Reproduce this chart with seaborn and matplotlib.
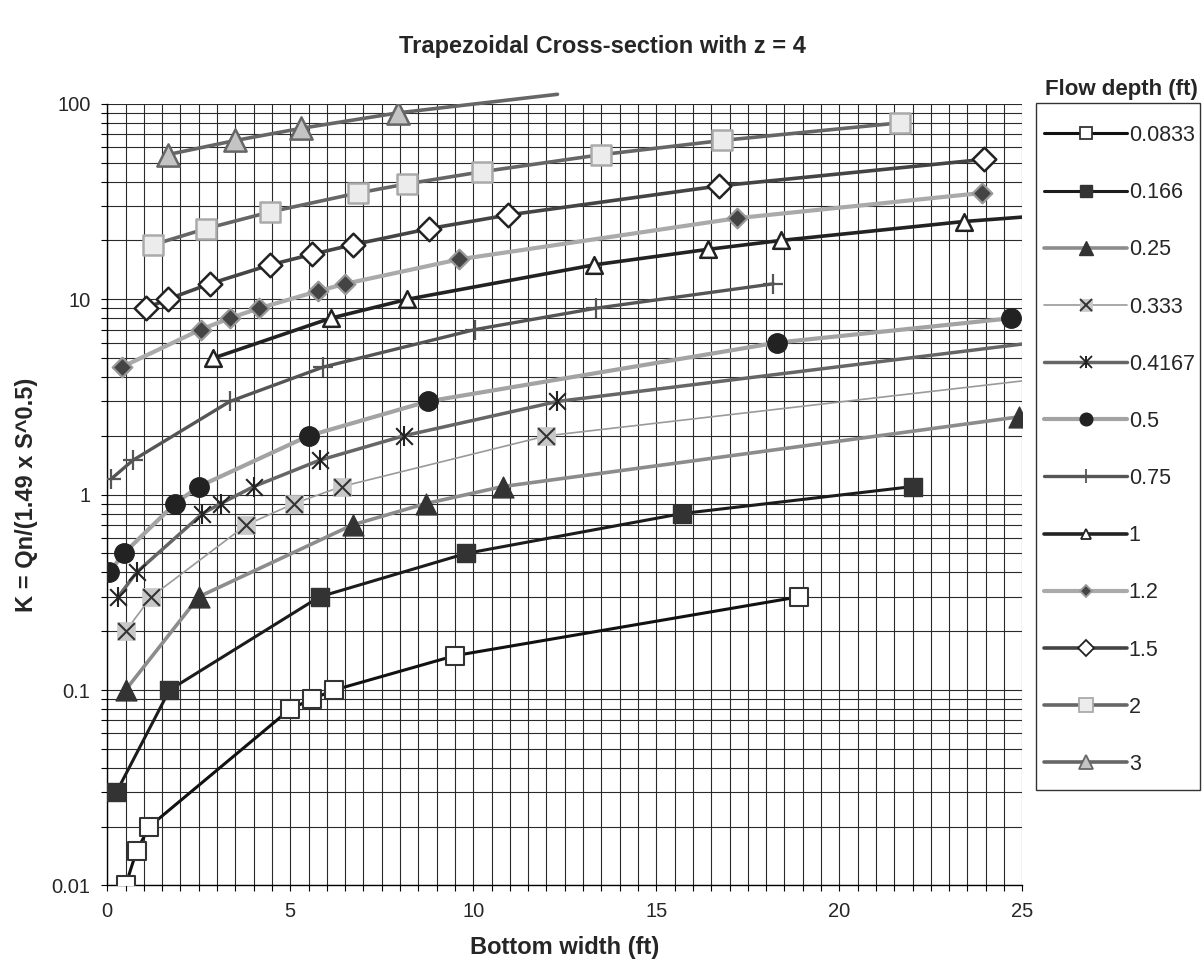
import matplotlib
matplotlib.use("Agg")
import matplotlib.pyplot as plt
from matplotlib.lines import Line2D
from matplotlib.patches import Rectangle
from matplotlib.ticker import MultipleLocator, LogLocator, FuncFormatter, NullFormatter
import seaborn as sns
import pandas as pd

# flow depths (ft) - one series each
depths = ['0.0833', '0.166', '0.25', '0.333', '0.4167', '0.5',
          '0.75', '1', '1.2', '1.5', '2', '3']

# bottom width (ft) / K values
w_0083 = [0.5, 0.8, 1.15, 5.0, 5.6, 6.2, 9.5, 18.9]
k_0083 = [0.01, 0.015, 0.02, 0.08, 0.09, 0.1, 0.15, 0.3]

w_0166 = [0.25, 1.7, 5.8, 9.8, 15.7, 22.0]
k_0166 = [0.03, 0.1, 0.3, 0.5, 0.8, 1.1]

w_025 = [0.5, 2.5, 6.7, 8.7, 10.8, 24.9]
k_025 = [0.1, 0.3, 0.7, 0.9, 1.1, 2.5]

w_0333 = [0.5, 1.2, 3.8, 5.1, 6.4, 12.0, 30.0]
k_0333 = [0.2, 0.3, 0.7, 0.9, 1.1, 2.0, 4.9]

w_04167 = [0.3, 0.8, 2.6, 3.1, 4.0, 5.8, 8.1, 12.3, 30.0]
k_04167 = [0.3, 0.4, 0.8, 0.9, 1.1, 1.5, 2.0, 3.0, 7.7]

w_05 = [0.05, 0.45, 1.85, 2.5, 5.5, 8.75, 18.3, 24.7]
k_05 = [0.4, 0.5, 0.9, 1.1, 2.0, 3.0, 6.0, 8.0]

w_075 = [0.1, 0.7, 3.35, 5.9, 10.05, 13.35, 18.2]
k_075 = [1.2, 1.5, 3.0, 4.5, 7.0, 9.0, 12.0]

w_1 = [2.9, 6.1, 8.2, 13.3, 16.4, 18.4, 23.4, 30.0]
k_1 = [5, 8, 10, 15, 18, 20, 25, 31]

w_12 = [0.4, 2.55, 3.35, 4.15, 5.75, 6.5, 9.6, 17.2, 23.9]
k_12 = [4.5, 7, 8, 9, 11, 12, 16, 26, 35]

w_15 = [1.05, 1.65, 2.8, 4.45, 5.6, 6.7, 8.8, 10.95, 16.7, 23.95]
k_15 = [9, 10, 12, 15, 17, 19, 23, 27, 38, 52]

w_2 = [1.25, 2.7, 4.45, 6.85, 8.2, 10.25, 13.5, 16.8, 21.65]
k_2 = [19, 23, 28, 35, 39, 45, 55, 65, 80]

w_3 = [1.65, 3.5, 5.3, 7.95, 12.3]
k_3 = [55, 65, 75, 90, 112]

widths = [w_0083, w_0166, w_025, w_0333, w_04167, w_05,
          w_075, w_1, w_12, w_15, w_2, w_3]
kvals = [k_0083, k_0166, k_025, k_0333, k_04167, k_05,
         k_075, k_1, k_12, k_15, k_2, k_3]

rows = []
for d, ws, ks in zip(depths, widths, kvals):
    for w, k in zip(ws, ks):
        rows.append((d, w, k))
df = pd.DataFrame(rows, columns=['depth', 'width', 'K'])

# line colour, line width, marker, size, face, edge, edge width
styles = {
    '0.0833': ('#111111', 2.2, 's', 13, 'white', '#333333', 1.5),
    '0.166':  ('#1c1c1c', 2.2, 's', 13, '#333333', '#333333', 1.0),
    '0.25':   ('#8c8c8c', 2.6, '^', 15, '#333333', '#333333', 1.0),
    '0.333':  ('#9a9a9a', 1.2, 's', 13, '#c8c8c8', '#c8c8c8', 0.5),
    '0.4167': ('#666666', 2.5, 'x', 12, '#222222', '#222222', 1.5),
    '0.5':    ('#a3a3a3', 3.0, 'o', 14, '#222222', '#222222', 1.0),
    '0.75':   ('#555555', 2.4, '+', 15, '#555555', '#555555', 1.6),
    '1':      ('#222222', 2.6, '^', 12, 'white', '#222222', 1.8),
    '1.2':    ('#aaaaaa', 3.0, 'D', 10, '#444444', '#999999', 1.6),
    '1.5':    ('#444444', 2.6, 'D', 12, 'white', '#222222', 1.8),
    '2':      ('#666666', 2.6, 's', 15, '#ececec', '#aaaaaa', 1.8),
    '3':      ('#666666', 2.6, '^', 16, '#c4c4c4', '#666666', 1.8),
}

sns.set_style('white')
plt.rcParams['font.family'] = ['Liberation Sans', 'DejaVu Sans']

fig = plt.figure(figsize=(12.04, 9.72), dpi=100)
ax = fig.add_axes([0.0891, 0.0891, 0.7600, 0.8040])

for d in depths:
    sub = df[df['depth'] == d]
    lc, lw, mk, ms, fc, ec, mew = styles[d]
    sns.lineplot(data=sub, x='width', y='K', sort=False, estimator=None,
                 color=lc, linewidth=lw, ax=ax, legend=False,
                 zorder=3, clip_on=(d != '3'))
    pts = sub[(sub['width'] <= 25) & (sub['K'] <= 100)]
    sns.scatterplot(data=pts, x='width', y='K', marker=mk, s=ms ** 2,
                    color=fc, edgecolor=ec, linewidth=mew, ax=ax,
                    legend=False, zorder=4)
    if d == '0.333':
        sns.scatterplot(data=pts, x='width', y='K', marker='x', s=12 ** 2,
                        color='#333333', linewidth=1.5, ax=ax,
                        legend=False, zorder=5)
    if d == '0.4167':
        sns.scatterplot(data=pts, x='width', y='K', marker='|', s=15 ** 2,
                        color='#222222', linewidth=1.5, ax=ax,
                        legend=False, zorder=5)

ax.set_yscale('log')
ax.set_xlim(0, 25)
ax.set_ylim(0.01, 100)

ax.xaxis.set_major_locator(MultipleLocator(5))
ax.xaxis.set_minor_locator(MultipleLocator(0.5))
ax.yaxis.set_major_locator(LogLocator(base=10))
ax.yaxis.set_minor_locator(LogLocator(base=10, subs=range(2, 10)))
ax.yaxis.set_major_formatter(FuncFormatter(lambda v, _: f'{v:g}'))
ax.yaxis.set_minor_formatter(NullFormatter())

ax.grid(which='both', color='#2a2a2a', linewidth=0.8)
ax.set_axisbelow(True)
ax.tick_params(which='both', direction='out', length=4, width=0.8,
               color='black', labelsize=14.5, left=True, bottom=True, pad=8)
for s in ['top', 'right']:
    ax.spines[s].set_visible(False)
for s in ['left', 'bottom']:
    ax.spines[s].set_color('black')
    ax.spines[s].set_linewidth(1.0)

ax.set_xlabel('Bottom width (ft)', fontsize=17, fontweight='bold')
ax.set_ylabel('K = Qn/(1.49 x S^0.5)', fontsize=17, fontweight='bold')
ax.xaxis.set_label_coords(0.5, -0.065)
ax.yaxis.set_label_coords(-0.0757, 0.5)

fig.text(0.5, 1 - 47 / 972, 'Trapezoidal Cross-section with z = 4',
         ha='center', va='center', fontsize=17, fontweight='bold')

# legend
handles = []
for d in depths:
    lc, lw, mk, ms, fc, ec, mew = styles[d]
    lms = ms * 0.65 if mk not in ('x', '+') else ms * 0.7
    h = Line2D([], [], color=lc, linewidth=lw, marker=mk, markersize=lms,
               markerfacecolor=fc, markeredgecolor=ec, markeredgewidth=min(mew, 1.3))
    if d == '0.333':
        h = (h, Line2D([], [], linestyle='none', marker='x', markersize=8,
                       markeredgecolor='#333333', markeredgewidth=1.4))
    if d == '0.4167':
        h = (h, Line2D([], [], linestyle='none', marker='|', markersize=9,
                       markeredgecolor='#222222', markeredgewidth=1.4))
    handles.append(h)

leg = fig.legend(handles, depths, loc='upper left',
                 bbox_to_anchor=(1044 / 1204, 1 - 125 / 972),
                 frameon=False, fontsize=15.5, handlelength=3.86,
                 handletextpad=0.08, labelspacing=1.68, borderpad=0,
                 borderaxespad=0)
fig.patches.append(Rectangle((1036 / 1204, 1 - 790 / 972), 164 / 1204, 687 / 972,
                             transform=fig.transFigure, fill=False,
                             edgecolor='#333333', linewidth=1.0))
fig.text(1121 / 1204, 1 - 90 / 972, 'Flow depth (ft)', ha='center', va='center',
         fontsize=16, fontweight='bold')

fig.savefig('out.png', dpi=100)
